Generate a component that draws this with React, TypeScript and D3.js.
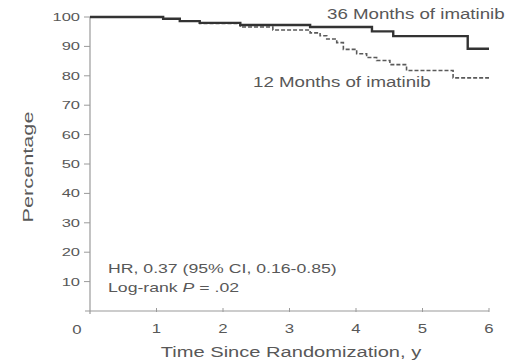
import React from "react";
import * as d3 from "d3";

// Kaplan-Meier style step curves (years, percentage)
const months36Times = [0, 1.1, 1.35, 1.65, 2.26, 3.31, 4.24, 4.56, 5.68, 6.0];
const months36Values = [100, 99.4, 98.6, 98.0, 97.3, 96.6, 95.1, 93.5, 89.2, 89.2];

const months12Times = [0, 1.1, 1.35, 1.65, 2.26, 2.75, 3.31, 3.46, 3.56, 3.71, 3.81, 4.01, 4.16, 4.31, 4.51, 4.76, 5.46, 6.0];
const months12Values = [100, 99.3, 98.6, 97.8, 96.6, 95.6, 94.6, 93.6, 92.5, 91.3, 89.0, 87.5, 86.2, 85.2, 83.8, 81.8, 79.3, 79.3];

const xTicks = [1, 2, 3, 4, 5, 6];
const yTicks = [10, 20, 30, 40, 50, 60, 70, 80, 90, 100];

const FONT = "'Liberation Sans', Arial, Helvetica, sans-serif";
const TEXT = "#585858";
const AXIS = "#9a9a9a";

// the source figure's lettering is horizontally stretched
function wide(x: number, y: number, sx: number) {
  return `translate(${x},${y}) scale(${sx},1)`;
}

export default function App() {
  const width = 507;
  const height = 362;

  const x = d3.scaleLinear().domain([0, 6]).range([90, 489]);
  const y = d3.scaleLinear().domain([0, 100]).range([311, 17]);

  const line = d3
    .line<[number, number]>()
    .x((d) => x(d[0]))
    .y((d) => y(d[1]))
    .curve(d3.curveStepAfter);

  const s36 = months36Times.map((t, i) => [t, months36Values[i]] as [number, number]);
  const s12 = months12Times.map((t, i) => [t, months12Values[i]] as [number, number]);

  return (
    <svg
      width={width}
      height={height}
      style={{ position: "absolute", left: 0, top: 0, background: "#fff" }}
      fontFamily={FONT}
    >
      {/* axes */}
      <line x1={x(0) - 5} x2={x(6)} y1={y(0)} y2={y(0)} stroke={AXIS} strokeWidth={1.2} />
      <line x1={x(0)} x2={x(0)} y1={y(100)} y2={y(0) + 3} stroke={AXIS} strokeWidth={1.2} />

      {yTicks.map((t) => (
        <g key={`y${t}`}>
          <line x1={x(0) - 6} x2={x(0)} y1={y(t)} y2={y(t)} stroke={AXIS} strokeWidth={1} />
          <text
            transform={wide(x(0) - 10, y(t) + 4, 1.5)}
            textAnchor="end"
            fontSize={11}
            fill={TEXT}
          >
            {t}
          </text>
        </g>
      ))}

      {xTicks.map((t) => (
        <g key={`x${t}`}>
          <line x1={x(t)} x2={x(t)} y1={y(0) - 3} y2={y(0) + 1} stroke={AXIS} strokeWidth={1} />
          <text transform={wide(x(t), 333, 1.4)} textAnchor="middle" fontSize={12} fill={TEXT}>
            {t}
          </text>
        </g>
      ))}
      <text transform={wide(77, 334, 1.4)} textAnchor="middle" fontSize={12} fill={TEXT}>
        0
      </text>

      {/* axis titles */}
      <text transform={wide(291, 357, 1.34)} textAnchor="middle" fontSize={15} fill={TEXT}>
        Time Since Randomization, y
      </text>
      <g transform="translate(33,167) rotate(-90)">
        <text transform="scale(1.55,1)" textAnchor="middle" fontSize={14} fill={TEXT}>
          Percentage
        </text>
      </g>

      {/* curves */}
      <path d={line(s12) ?? ""} fill="none" stroke="#5a5a5a" strokeWidth={1.6} strokeDasharray="4,2" />
      <path d={line(s36) ?? ""} fill="none" stroke="#333" strokeWidth={2.4} />

      {/* annotations */}
      <text transform={wide(327, 19, 1.29)} fontSize={14.5} fill={TEXT}>
        36 Months of imatinib
      </text>
      <text transform={wide(253, 87, 1.29)} fontSize={14.5} fill={TEXT}>
        12 Months of imatinib
      </text>
      <text transform={wide(108, 273, 1.36)} fontSize={13} fill={TEXT}>
        HR, 0.37 (95% CI, 0.16-0.85)
      </text>
      <text transform={wide(108, 292, 1.36)} fontSize={13} fill={TEXT}>
        Log-rank <tspan fontStyle="italic">P</tspan> = .02
      </text>
    </svg>
  );
}
